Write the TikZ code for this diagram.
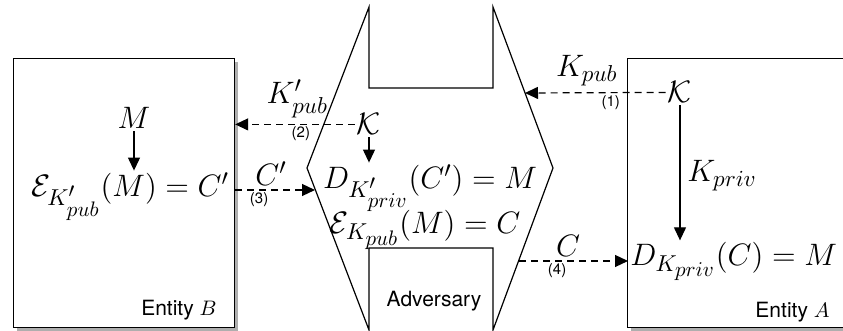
\documentclass[tikz,border=0pt]{standalone}
\usepackage{fix-cm}
\usepackage{amsmath,amssymb}
\usepackage{fontspec}
\setsansfont{TeX Gyre Heros}
\usepackage{tikz}
\usetikzlibrary{arrows.meta,positioning,shadows}
\DeclareMathSizes{15.5}{15.5}{11.5}{10.5}
\DeclareMathSizes{10.5}{10.5}{7.5}{6}
\newcommand{\Kpub}{K_{pub}}
\newcommand{\Kpriv}{K_{priv}}

\begin{document}
\begin{tikzpicture}[x=0.5pt, y=-0.5pt,
  box/.style={draw, line width=0.6pt, fill=white, inner sep=0pt,
    drop shadow={shadow xshift=1.8pt, shadow yshift=-1.8pt, fill=black!45, opacity=0.7}},
  mth/.style={font=\fontsize{15.5}{17}\selectfont, inner sep=1pt},
  tag/.style={font=\sffamily\fontsize{10.5}{12}\selectfont, inner sep=0pt},
  num/.style={font=\sffamily\fontsize{7.5}{8}\selectfont, inner sep=1pt},
  ar/.style={-{Triangle[length=6.5pt, width=6pt]}, line width=0.6pt},
  dar/.style={ar, dash pattern=on 3.5pt off 2.5pt}]
  \useasboundingbox (0,0) rectangle (843,331);

  % the two entities
  \node[box, anchor=north west, minimum width=110.5pt, minimum height=134.5pt] (entB) at (13,58) {};
  \node[box, anchor=north west, minimum width=120pt, minimum height=134.5pt] (entA) at (627,58) {};
  \node[tag, anchor=base east] (labB) at (217,316) {Entity $B$};
  \node[tag, anchor=base east] (labA) at (830,318) {Entity $A$};

  % adversary in the middle
  \draw[line width=0.6pt] (369,7) -- (369,88) -- (493,88) -- (493,7) -- (553,168) -- (493,330)
    -- (493,248) -- (369,248) -- (369,330) -- (307,168) -- cycle;
  \node[tag, anchor=base] (labAdv) at (434,307) {Adversary};
  \coordinate (in1) at (525,93);
  \coordinate (in3) at (315,190);
  \coordinate (out4) at (519,261);

  % contents
  \node[mth, anchor=base] (mB) at (134,129) {$M$};
  \node[mth, anchor=base] (encB) at (130,197) {$\mathcal{E}_{K'_{pub}}(M) = C'$};
  \node[mth, anchor=base] (kAdv) at (369,135) {$\mathcal{K}$};
  \node[mth, anchor=base] (decAdv) at (430,189) {$D_{K'_{priv}}(C') = M$};
  \node[mth, anchor=base] (encAdv) at (425,234) {$\mathcal{E}_{\Kpub}(M) = C$};
  \node[mth, anchor=base] (kA) at (680,103) {$\mathcal{K}$};
  \node[mth, anchor=base west] (privA) at (685,182) {$\Kpriv$};
  \node[mth, anchor=base west] (decA) at (628,266) {$D_{\Kpriv}(C) = M$};

  % arrows
  \draw[ar] (mB.south) -- (mB.south |- encB.north);
  \draw[ar] (kAdv.south) -- (kAdv.south |- decAdv.north);
  \draw[ar] (kA.south) -- (kA.south |- decA.north);
  \draw[dar] (kA.west) -- (in1)
    node[mth, pos=.56, above=2pt] (l1) {$\Kpub$} node[num, pos=.39, below] (n1) {(1)};
  \draw[dar] (kAdv.west) -- (kAdv.west -| entB.east)
    node[mth, pos=.48, above=2pt] (l2) {$K'_{pub}$} node[num, pos=.45, below] (n2) {(2)};
  \draw[dar] (entB.east |- in3) -- (in3)
    node[mth, pos=.45, above=1pt] (l3) {$C'$} node[num, pos=.3, below] (n3) {(3)};
  \draw[dar] (out4) -- (out4 -| decA.west)
    node[mth, pos=.45, above=1pt] (l4) {$C$} node[num, pos=.35, below] (n4) {(4)};
\end{tikzpicture}
\end{document}
